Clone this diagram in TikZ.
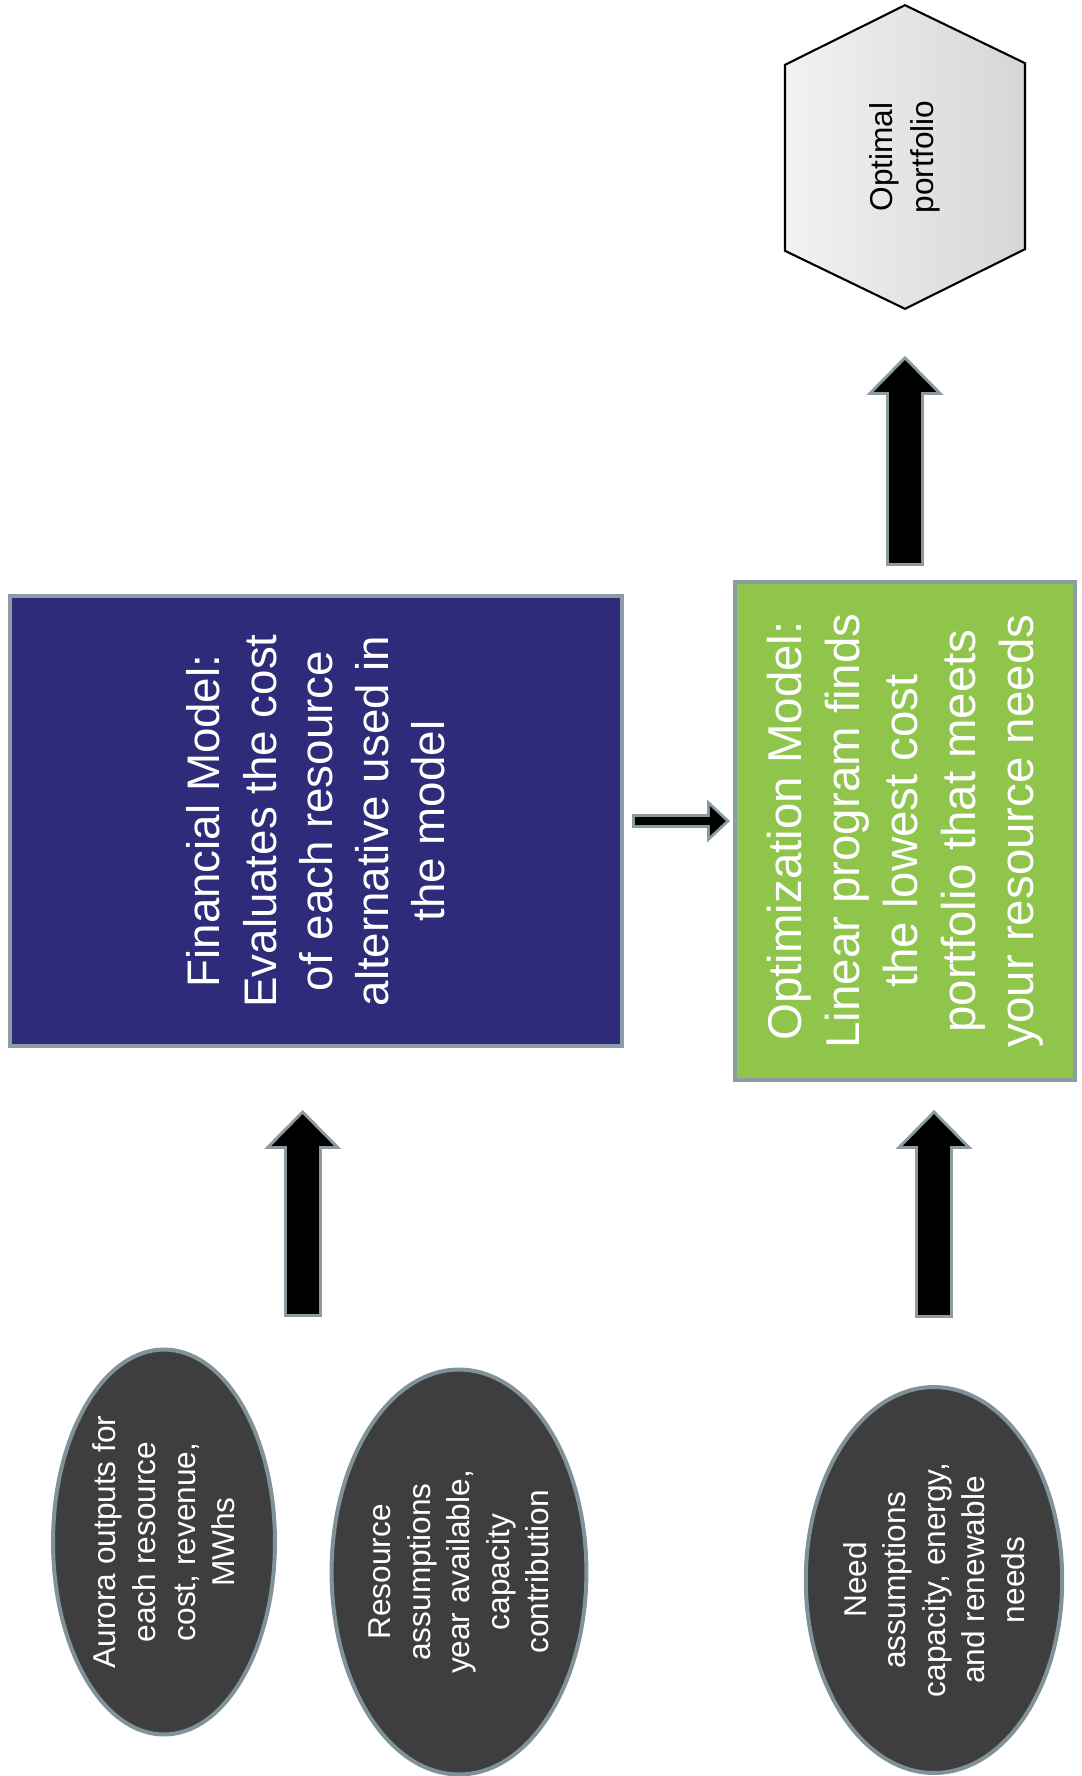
\documentclass[tikz,border=0pt]{standalone}
\usepackage{fontspec}
\setmainfont{Liberation Sans}
\usetikzlibrary{calc, positioning}
\usetikzlibrary{arrows.meta}
\usetikzlibrary{shapes.geometric}
\usetikzlibrary{backgrounds}

\definecolor{finblue}{RGB}{46,44,122}
\definecolor{optgreen}{RGB}{143,197,74}
\definecolor{boxrim}{RGB}{138,156,166}
\definecolor{ovalgray}{RGB}{62,62,62}
\definecolor{ovalrim}{RGB}{128,146,152}
\definecolor{arrowrim}{RGB}{140,155,160}

\tikzset{
  modelbox/.style={rectangle, draw=boxrim, line width=0.08cm, rotate=90,
    text=white, align=center, font=\fontsize{26}{32}\selectfont},
  inputoval/.style={ellipse, draw=ovalrim, line width=0.08cm, fill=ovalgray,
    rotate=90, inner sep=0pt, text=white, align=center,
    font=\fontsize{18}{22.5}\selectfont},
  bigarrow/.style 2 args={draw=arrowrim, line width=0.76cm,
    shorten <=#1, shorten >=#2,
    -{Triangle[width=1.54cm, length=0.78cm, line width=0pt]},
    postaction={draw=black, line width=0.64cm,
      shorten <=#1+0.06cm, shorten >=#2+0.085cm,
      -{Triangle[width=1.25cm, length=0.635cm, line width=0pt]}}},
  smallarrow/.style 2 args={draw=arrowrim, line width=0.28cm,
    shorten <=#1, shorten >=#2,
    -{Triangle[width=0.86cm, length=0.46cm, line width=0pt]},
    postaction={draw=black, line width=0.16cm,
      shorten <=#1+0.06cm, shorten >=#2+0.085cm,
      -{Triangle[width=0.6cm, length=0.32cm, line width=0pt]}}},
}

\begin{document}
\begin{tikzpicture}[x=0.02cm, y=-0.02cm]
\useasboundingbox (0,0) rectangle (1082,1776);

\node[modelbox, fill=finblue, minimum width=9cm, minimum height=12.24cm]
  (fin) at (316,821)
  {Financial Model:\\Evaluates the cost\\of each resource\\alternative used in\\the model};
\node[modelbox, fill=optgreen, minimum width=9.96cm, minimum height=6.8cm,
  font=\fontsize{27}{33}\selectfont]
  (opt) at (905,831)
  {Optimization Model:\\Linear program finds\\the lowest cost\\portfolio that meets\\your resource needs};

\node[rotate=90, minimum width=6.06cm, minimum height=4.8cm, align=center,
  font=\fontsize{18}{23}\selectfont] (hex) at (905,157) {Optimal\\portfolio};
\begin{scope}[on background layer]
\draw[line width=1.2pt, line join=miter, left color=gray!10, right color=gray!32]
  (hex.east) -- ++(120,58) -- ++(0,186) -- (hex.west)
  -- ++(-120,-58) -- ++(0,-186) -- cycle;
\end{scope}

\node[inputoval, minimum width=7.7cm, minimum height=4.44cm] (aur) at (164,1542)
  {Aurora outputs for\\each resource\\cost, revenue,\\MWhs};
\node[inputoval, minimum width=8.1cm, minimum height=4.84cm] (res) at (459,1572)
  {Resource\\assumptions\\year available,\\capacity\\contribution};
\node[inputoval, minimum width=7.72cm, minimum height=4.72cm] (need) at (934,1580)
  {Need\\assumptions\\capacity, energy,\\and renewable\\needs};

\coordinate (inputs) at ($(aur.east)!0.47!(res.east)$);
\draw[bigarrow={0.8cm}{1.24cm}] (inputs) -- (inputs |- fin.west);
\draw[bigarrow={1.34cm}{0.56cm}] (need.east) -- (need.east |- opt.west);
\draw[bigarrow={0.28cm}{0.94cm}] (opt.east) -- (hex.west);
\draw[smallarrow={0.16cm}{0.06cm}] (fin.south) -- (fin.south -| opt.north);
\end{tikzpicture}
\end{document}
